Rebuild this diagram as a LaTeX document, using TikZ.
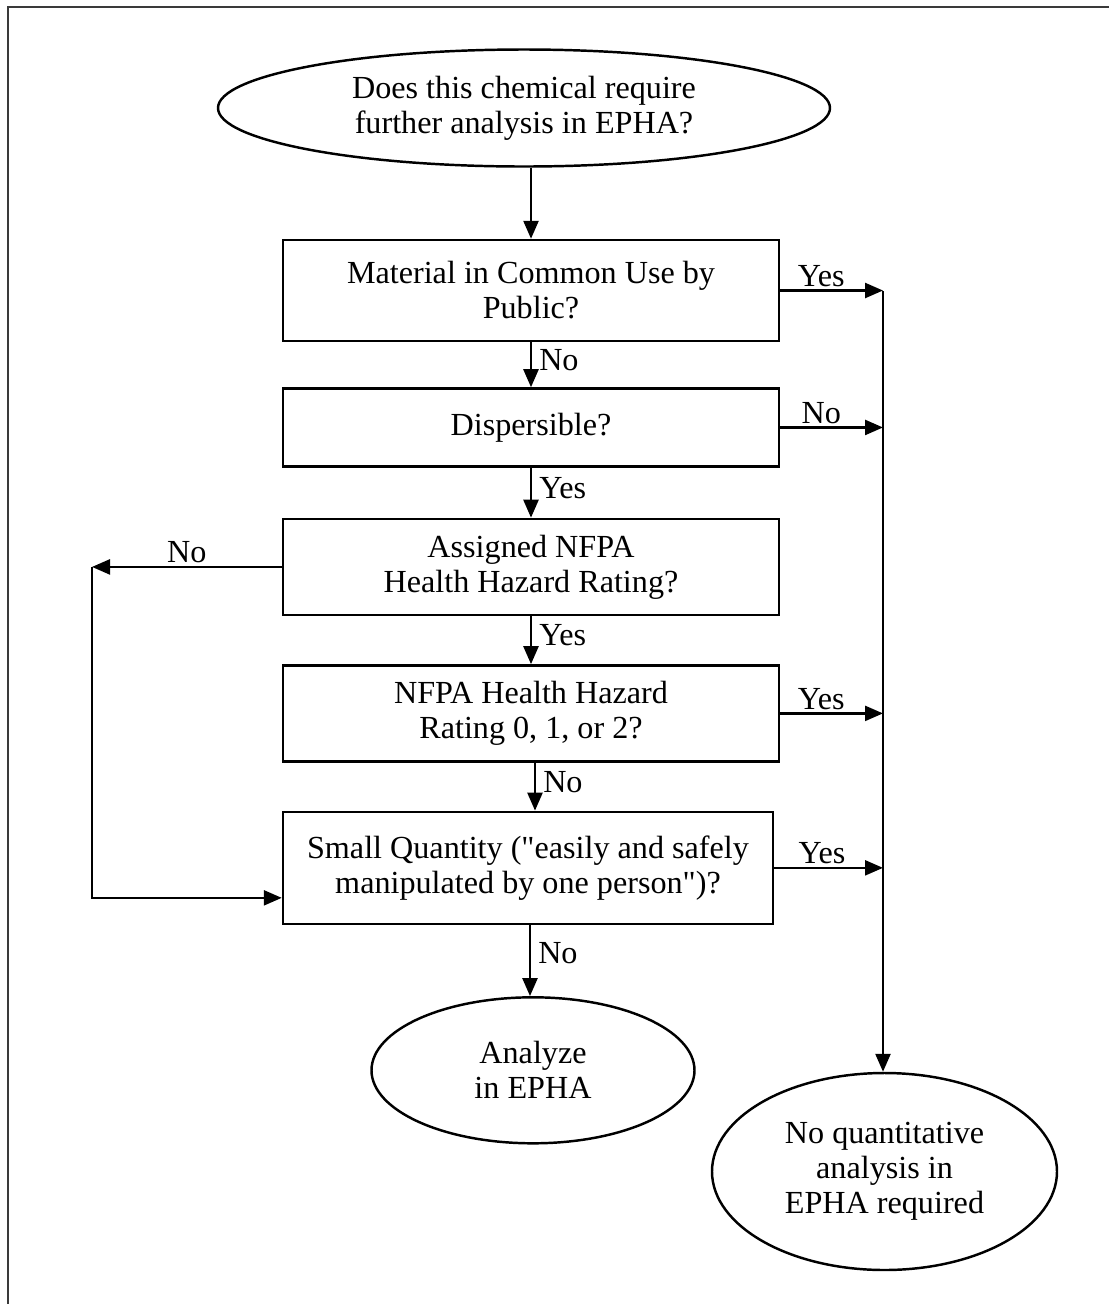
\documentclass[tikz,border=0pt]{standalone}
\usepackage{fontspec}
\setmainfont{Liberation Serif}[Ligatures=TeXOff]
\usepackage{xcolor}
\usepackage{tikz}
\usetikzlibrary{arrows.meta,positioning,shapes.geometric}
\definecolor{frameGray}{HTML}{3A3A3A}

\begin{document}
\begin{tikzpicture}[
  node distance=0.9cm and 1cm,
  every node/.style={font=\fontsize{18.3}{19.9}\selectfont},
  box/.style={rectangle,draw=black,line width=1.4pt,align=center,minimum width=9.92cm,inner sep=0pt},
  oval/.style={ellipse,draw=black,line width=1.4pt,align=center,inner sep=0pt},
  arrow/.style={-{Triangle[length=3.6mm,width=3mm]},line width=1.4pt,color=black},
  lbl/.style={inner sep=1.5pt},
  dlbl/.style={right,inner sep=4pt,pos=0.4}
]
\useasboundingbox (0,0) rectangle (22.18,-26.08);
\clip (0,0) rectangle (22.18,-26.08);
\draw[frameGray,line width=1.4pt] (0.16,-0.14) rectangle (22.6,-26.6);

\node[oval,minimum width=12.24cm,minimum height=2.34cm] (query) at (10.48,-2.16) {Does this chemical require\\further analysis in EPHA?};
\node[box,minimum height=2.02cm] (common) at (10.62,-5.81) {Material in Common Use by\\Public?};
\node[box,minimum height=1.56cm,below=of common] (disp) {Dispersible?};
\node[box,minimum height=1.92cm,below=1.0cm of disp] (assigned) {Assigned NFPA\\Health Hazard Rating?};
\node[box,minimum height=1.92cm,below=0.96cm of assigned] (rating) {NFPA Health Hazard\\Rating 0, 1, or 2?};
\node[box,minimum width=9.8cm,minimum height=2.24cm,below=0.96cm of rating,xshift=-0.06cm] (small) {Small Quantity ("easily and safely\\manipulated by one person")?};
\node[oval,minimum width=6.46cm,minimum height=2.92cm,below=1.42cm of small,xshift=0.1cm] (analyze) {Analyze\\in EPHA};
\node[oval,minimum width=6.9cm,minimum height=3.94cm] (noneed) at (17.69,-23.43) {No quantitative\\analysis in\\EPHA required};

\coordinate (rightline) at (17.66,-5.82);
\coordinate (leftline) at (1.84,-11.3);

% main column
\draw[arrow] (query.south -| common.north) -- (common.north);
\draw[arrow] (common.south) -- node[dlbl]{No} (disp.north);
\draw[arrow] (disp.south) -- node[dlbl]{Yes} (assigned.north);
\draw[arrow] (assigned.south) -- node[dlbl]{Yes} (rating.north);
\draw[arrow] ([xshift=0.08cm]rating.south) -- node[dlbl]{No} ([xshift=0.08cm]rating.south |- small.north);
\draw[arrow] ([xshift=0.04cm]small.south) -- node[dlbl]{No} ([xshift=0.04cm]small.south |- analyze.north);

% exits to the right
\draw[arrow] (common.east) -- node[lbl,above,pos=0.4]{Yes} (common.east -| rightline);
\draw[arrow] (disp.east) -- node[lbl,above,pos=0.4]{No} (disp.east -| rightline);
\draw[arrow] (rating.east) -- node[lbl,above,pos=0.4]{Yes} (rating.east -| rightline);
\draw[arrow] (small.east) -- node[lbl,above,pos=0.44]{Yes} (small.east -| rightline);
\draw[arrow] (rightline) -- (rightline |- noneed.north);

% loop on the left
\draw[arrow] (assigned.west) -- node[lbl,above]{No} (assigned.west -| leftline);
\draw[arrow] (assigned.west -| leftline) |- ([yshift=-0.6cm]small.west);
\end{tikzpicture}
\end{document}
